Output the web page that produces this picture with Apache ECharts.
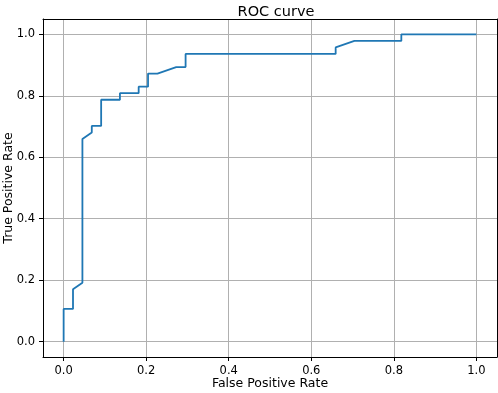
<!DOCTYPE html>
<html>
<head>
<meta charset="utf-8">
<script src="https://cdn.jsdelivr.net/npm/echarts@6/dist/echarts.min.js"></script>
<style>
  html, body { margin: 0; padding: 0; background: #fff; }
  #chart { width: 498px; height: 393px; }
</style>
</head>
<body>
<div id="chart"></div>
<script>
// ROC points
const fpr = [0, 0, 0.0227, 0.0227, 0.0455, 0.0455, 0.0682, 0.0682, 0.0909, 0.0909,
  0.1364, 0.1364, 0.1818, 0.1818, 0.2045, 0.2045, 0.2273, 0.2727, 0.2955, 0.2955,
  0.6591, 0.6591, 0.7045, 0.8182, 0.8182, 1.0];
const tpr = [0, 0.1064, 0.1064, 0.1702, 0.1915, 0.6596, 0.6809, 0.7021, 0.7021, 0.7872,
  0.7872, 0.8085, 0.8085, 0.8298, 0.8298, 0.8723, 0.8723, 0.8936, 0.8936, 0.9362,
  0.9362, 0.9574, 0.9787, 0.9787, 1.0, 1.0];
const tickValues = [0, 0.2, 0.4, 0.6, 0.8, 1.0];

const chart = echarts.init(document.getElementById('chart'));
const font = 'DejaVu Sans';

function axis(name, gap, margin) {
  return {
    type: 'value',
    min: -0.05,
    max: 1.05,
    name: name,
    nameLocation: 'middle',
    nameGap: gap,
    nameMoveOverlap: false,
    nameTextStyle: { fontFamily: font, fontSize: 12.5, color: '#000' },
    axisLine: { show: true, onZero: false, lineStyle: { color: '#000', width: 1 } },
    axisTick: { show: true, length: 4, inside: false, customValues: tickValues,
      lineStyle: { color: '#000', width: 1 } },
    axisLabel: { customValues: tickValues, margin: margin, fontFamily: font, fontSize: 11.5,
      color: '#000', formatter: v => v.toFixed(1) },
    splitLine: { show: true, customValues: tickValues, lineStyle: { color: '#b0b0b0', width: 1 } }
  };
}

// frame on the top and right side
function frame(pos) {
  return {
    type: 'value', position: pos, min: 0, max: 1,
    axisLine: { show: true, onZero: false, lineStyle: { color: '#000', width: 1 } },
    axisTick: { show: false }, axisLabel: { show: false }, splitLine: { show: false }
  };
}

const option = {
  animation: false,
  backgroundColor: '#fff',
  title: {
    text: 'ROC curve',
    left: 271,
    textAlign: 'center',
    top: 0,
    textStyle: { fontFamily: font, fontSize: 14.5, fontWeight: 'normal', color: '#000' }
  },
  grid: { left: 43, right: 1, top: 19, bottom: 36, outerBoundsMode: 'none' },
  xAxis: [axis('False Positive Rate', 20, 8), frame('top')],
  yAxis: [axis('True Positive Rate', 28, 8), frame('right')],
  series: [{
    type: 'line',
    data: fpr.map((x, i) => [x, tpr[i]]),
    showSymbol: false,
    lineStyle: { color: '#1f77b4', width: 1.8 },
    z: 3
  }]
};

chart.setOption(option);
</script>
</body>
</html>
